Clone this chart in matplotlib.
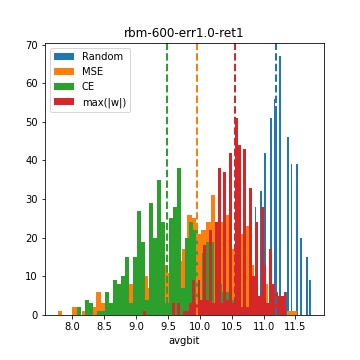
import numpy as np
import matplotlib
matplotlib.use('Agg')
from matplotlib import pyplot as plt

# histogram bin ranges and counts
labels = ['Random', 'MSE', 'CE', 'max(|w|)']
ranges = [(10.86, 11.75), (7.77, 11.52), (8.074, 10.531), (9.11, 11.36)]

random_counts = [28, 0, 0, 32, 0, 42, 0, 0, 51, 0,
                 56, 54, 3, 67, 0, 5, 6, 46, 0, 39,
                 0, 0, 39, 0, 20, 0, 0, 15, 0, 9]
mse_counts = [1, 0, 0, 2, 0, 1, 0, 2, 6, 3,
              2, 1, 3, 4, 7, 8, 5, 6, 10, 7,
              8, 9, 13, 11, 12, 14, 17, 26, 25, 21,
              22, 24, 31, 20, 24, 26, 17, 15, 21, 23,
              13, 8, 3, 8, 3, 2, 4, 0, 1, 1]
ce_counts = [2, 0, 4, 3, 0, 1, 1, 6, 3, 9,
             8, 10, 15, 3, 15, 27, 19, 4, 29, 20,
             35, 24, 3, 25, 28, 38, 7, 20, 24, 22,
             3, 16, 19, 19, 3, 8, 6, 6, 4]
maxw_counts = [1, 0, 0, 0, 0, 0, 0, 0, 0, 0,
               3, 0, 3, 0, 1, 1, 3, 9, 3, 9,
               4, 18, 4, 22, 3, 24, 38, 3, 37, 4,
               42, 3, 51, 44, 2, 43, 2, 33, 10, 24,
               5, 28, 13, 3, 17, 8, 6, 5, 5, 6]
counts = [random_counts, mse_counts, ce_counts, maxw_counts]

# mean avgbit of each method (dashed lines)
means = [11.203, 9.956, 9.484, 10.558]

colors = ['tab:blue', 'tab:orange', 'tab:green', 'tab:red']

fig = plt.figure(figsize=(5, 5), dpi=72)
plt.subplots_adjust(left=0.125, right=0.9, bottom=0.125, top=0.88)
for lab, rng, cnt, c in zip(labels, ranges, counts, colors):
    edges = np.linspace(rng[0], rng[1], len(cnt) + 1)
    plt.hist(edges[:-1], bins=edges, weights=cnt, color=c, label=lab)
for m, c in zip(means, colors):
    plt.axvline(m, color=c, linestyle='--', linewidth=2)

plt.title('rbm-600-err1.0-ret1')
plt.xlabel('avgbit')
plt.legend(loc='upper left')
plt.savefig('out.png')
